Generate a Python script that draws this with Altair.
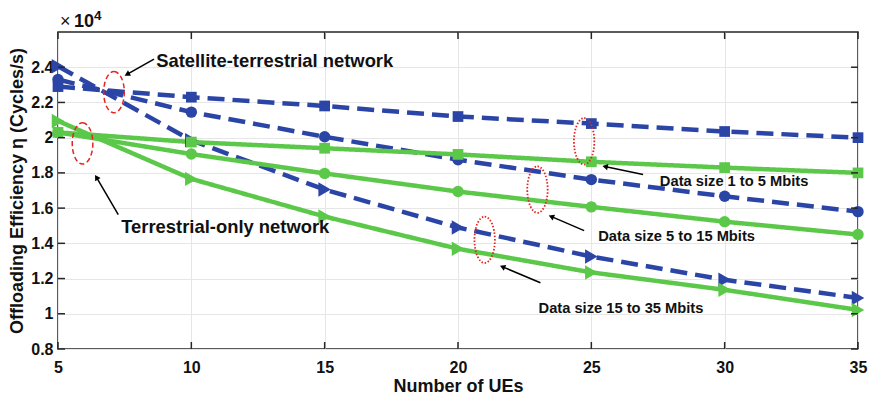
import altair as alt
import pandas as pd

# ---------------- data (values in units of 10^4 cycles/s) ----------------
ues = [5, 10, 15, 20, 25, 30, 35]
sat_1_5 = [2.29, 2.23, 2.18, 2.12, 2.08, 2.035, 2.0]
sat_5_15 = [2.33, 2.145, 2.005, 1.875, 1.762, 1.667, 1.58]
sat_15_35 = [2.405, 1.985, 1.705, 1.49, 1.325, 1.193, 1.09]
ter_1_5 = [2.03, 1.975, 1.94, 1.905, 1.863, 1.83, 1.80]
ter_5_15 = [2.03, 1.907, 1.797, 1.694, 1.607, 1.523, 1.45]
ter_15_35 = [2.095, 1.766, 1.552, 1.369, 1.235, 1.136, 1.022]

networks = ["Satellite-terrestrial", "Terrestrial-only"]
sizes = ["1 to 5", "5 to 15", "15 to 35"]
marker_shapes = ["square", "circle", "triangle-right"]
marker_areas = [115, 130, 210]

x_ticks = [5, 10, 15, 20, 25, 30, 35]
y_ticks = [0.8, 1.0, 1.2, 1.4, 1.6, 1.8, 2.0, 2.2, 2.4]

# annotation data (data coordinates)
ell_dash_x = [7.1, 5.92]
ell_dash_y = [2.258, 1.967]
ell_dot_x = [24.73, 22.98, 21.0]
ell_dot_y = [1.979, 1.705, 1.42]

arrow_x = [8.60, 7.26, 26.94, 24.73, 23.09]
arrow_y = [2.446, 1.563, 1.791, 1.472, 1.176]
arrow_x2 = [7.62, 6.46, 25.55, 23.53, 21.70]
arrow_y2 = [2.362, 1.770, 1.835, 1.550, 1.265]
arrow_angle = [242, 329, 282, 293, 293]

label_text = ["Satellite-terrestrial network", "Terrestrial-only network",
              "Data size 1 to 5 Mbits", "Data size 5 to 15 Mbits",
              "Data size 15 to 35 Mbits"]
label_x = [8.68, 7.37, 27.57, 25.26, 23.02]
label_y = [2.434, 1.495, 1.751, 1.438, 1.028]
label_size = [18.4, 18.4, 14.7, 14.7, 14.7]

# ---------------- tables ----------------
all_series = [
    (networks[0], sizes[0], sat_1_5), (networks[0], sizes[1], sat_5_15), (networks[0], sizes[2], sat_15_35),
    (networks[1], sizes[0], ter_1_5), (networks[1], sizes[1], ter_5_15), (networks[1], sizes[2], ter_15_35),
]
rows = []
for net, sz, vals in all_series:
    for xv, yv in zip(ues, vals):
        rows.append({"x": xv, "y": yv, "network": net, "size": sz,
                     "series": net + " " + sz,
                     "area": marker_areas[sizes.index(sz)]})
df = pd.DataFrame(rows)

ell_dash = pd.DataFrame({"x": ell_dash_x, "y": ell_dash_y})
ell_dot = pd.DataFrame({"x": ell_dot_x, "y": ell_dot_y})
arrows = pd.DataFrame({"x": arrow_x, "y": arrow_y, "x2": arrow_x2, "y2": arrow_y2})
heads = pd.DataFrame({"x": arrow_x2, "y": arrow_y2, "angle": arrow_angle})
labels = pd.DataFrame({"text": label_text, "x": label_x, "y": label_y, "fs": label_size})

BLUE = "#2B45A6"
GREEN = "#5CC84A"
RED = "#E52420"
FONT = "Liberation Sans"
W, H = 800, 317

xscale = alt.Scale(domain=[5, 35], nice=False, zero=False)
yscale = alt.Scale(domain=[0.8, 2.6], nice=False, zero=False)

xaxis = alt.Axis(values=x_ticks, title="Number of UEs", grid=True, ticks=False, domain=False,
                 labelPadding=10, titlePadding=2, labelFlush=False)
yaxis = alt.Axis(values=y_ticks, title="Offloading Efficiency η (Cycles/s)", grid=True, ticks=False,
                 domain=False, labelPadding=5, titlePadding=4,
                 labelExpr="format(datum.value, '~g')", labelFlush=False)

X = alt.X("x:Q", scale=xscale, axis=xaxis)
Y = alt.Y("y:Q", scale=yscale, axis=yaxis)

color = alt.Color("network:N", scale=alt.Scale(domain=networks, range=[BLUE, GREEN]), legend=None)

lines = alt.Chart(df).mark_line(strokeWidth=4.5).encode(
    x=X, y=Y, color=color,
    strokeDash=alt.StrokeDash("network:N", scale=alt.Scale(domain=networks, range=[[17, 8], [1, 0]]), legend=None),
    detail="series:N",
)
points = alt.Chart(df).mark_point(filled=True, opacity=1).encode(
    x=X, y=Y, color=color,
    shape=alt.Shape("size:N", scale=alt.Scale(domain=sizes, range=marker_shapes), legend=None),
    size=alt.Size("area:Q", scale=None),
)

ELL_DASH = "M0,-1 A0.5,1 0 1,1 0,1 A0.5,1 0 1,1 0,-1 Z"
ELL_DOT = "M0,-1 A0.44,1 0 1,1 0,1 A0.44,1 0 1,1 0,-1 Z"
ell1 = alt.Chart(ell_dash).mark_point(shape=ELL_DASH, size=1700, stroke=RED, strokeWidth=1.5,
                                      strokeDash=[5, 3], filled=False, opacity=1).encode(x=X, y=Y)
ell2 = alt.Chart(ell_dot).mark_point(shape=ELL_DOT, size=2150, stroke=RED, strokeWidth=1.8,
                                     strokeDash=[1.5, 1.8], filled=False, opacity=1).encode(x=X, y=Y)

arrow_lines = alt.Chart(arrows).mark_rule(color="black", strokeWidth=1.5).encode(
    x=X, y=Y, x2="x2:Q", y2="y2:Q")
arrow_heads = alt.Chart(heads).mark_point(shape="triangle", filled=True, color="black", size=40, opacity=1).encode(
    x=X, y=Y, angle=alt.Angle("angle:Q", scale=None))

texts = alt.Chart(labels).mark_text(align="left", baseline="middle", font=FONT, fontWeight="bold",
                                    color="#111111").encode(
    x=X, y=Y, text="text:N", size=alt.Size("fs:Q", scale=None))

# inward ticks (box style)
xt = pd.DataFrame({"x": x_ticks})
yt = pd.DataFrame({"y": y_ticks})
TICKC = "#262626"
xt_bot = alt.Chart(xt).mark_rule(color=TICKC, strokeWidth=1.5).encode(x=X, y=alt.value(H), y2=alt.value(H - 7))
xt_top = alt.Chart(xt).mark_rule(color=TICKC, strokeWidth=1.5).encode(x=X, y=alt.value(0), y2=alt.value(7))
yt_l = alt.Chart(yt).mark_rule(color=TICKC, strokeWidth=1.5).encode(y=Y, x=alt.value(0), x2=alt.value(7))
yt_r = alt.Chart(yt).mark_rule(color=TICKC, strokeWidth=1.5).encode(y=Y, x=alt.value(W), x2=alt.value(W - 7))

exp_df = pd.DataFrame({"times": ["×"], "ten": ["10"], "p": ["4"]})
exp_times = alt.Chart(exp_df).mark_text(align="left", baseline="alphabetic", font=FONT, fontSize=18,
                                        color="#111111").encode(
    text="times:N", x=alt.value(2), y=alt.value(-5))
exp_ten = alt.Chart(exp_df).mark_text(align="left", baseline="alphabetic", font=FONT, fontSize=18,
                                      fontWeight="bold", color="#111111").encode(
    text="ten:N", x=alt.value(16), y=alt.value(-5))
exp_sup = alt.Chart(exp_df).mark_text(align="left", baseline="alphabetic", font=FONT, fontSize=13.5,
                                      fontWeight="bold", color="#111111").encode(
    text="p:N", x=alt.value(36), y=alt.value(-12))

chart = alt.layer(
    lines, points, ell1, ell2, arrow_lines, arrow_heads, texts,
    xt_bot, xt_top, yt_l, yt_r, exp_times, exp_ten, exp_sup
).properties(
    width=W, height=H,
    background="white",
    autosize=alt.AutoSizeParams(type="none"),
    padding={"left": 50, "top": 24, "right": 10, "bottom": 47},
).configure_view(
    stroke="#262626", strokeWidth=1.5
).configure_axis(
    labelFont=FONT, labelFontWeight="bold", labelFontSize=16, labelColor="#111111",
    titleFont=FONT, titleFontWeight="bold", titleFontSize=18, titleColor="#111111",
    gridColor="#e6e6e6", gridWidth=1,
)

chart.save("out.html", embed_options={"renderer": "svg", "actions": False})
